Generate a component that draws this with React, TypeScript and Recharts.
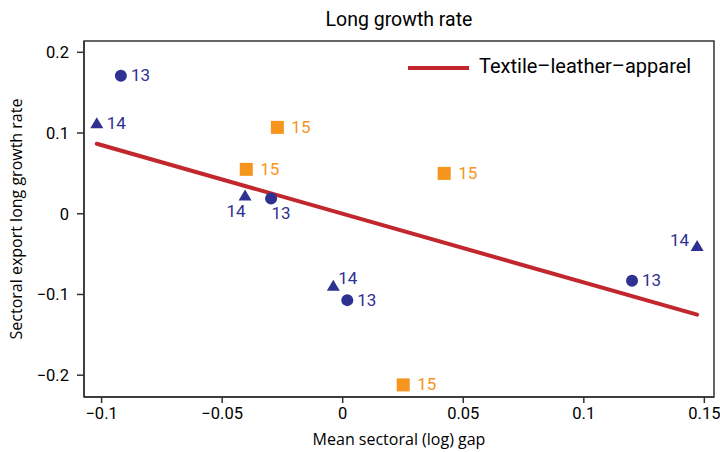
import React from 'react';
import { ComposedChart, Scatter, XAxis, YAxis, ReferenceArea } from 'recharts';

// marker data
const circleX = [-0.092, -0.0297, 0.0019, 0.12];
const circleY = [0.171, 0.019, -0.107, -0.083];
const circleSide = ['right', 'below-right', 'right', 'right'];

const triangleX = [-0.102, -0.0405, -0.0039, 0.147];
const triangleY = [0.112, 0.0227, -0.0892, -0.04];
const triangleSide = ['right', 'below-left', 'upper-right', 'upper-left'];

const squareX = [-0.0271, -0.04, 0.0421, 0.0251];
const squareY = [0.107, 0.055, 0.05, -0.212];
const squareSide = ['right', 'right', 'right', 'right'];

const fitX = [-0.102, 0.147];
const fitY = [0.0867, -0.125];

const xTicks = [-0.1, -0.05, 0, 0.05, 0.1, 0.15];
const yTicks = [-0.2, -0.1, 0, 0.1, 0.2];
const xDomain = [-0.1073, 0.154];
const yDomain = [-0.227, 0.214];

const NAVY = '#2E3192';
const ORANGE = '#F7941D';
const RED = '#C1272D';
const AXIS = '#333333';
const FONT = 'Roboto, sans-serif';
const TITLE_FONT = "'Open Sans', sans-serif";

const build = (xs: number[], ys: number[], sides: string[], label: string) =>
  xs.map((x, i) => ({ x, y: ys[i], side: sides[i], label }));

const circles = build(circleX, circleY, circleSide, '13');
const triangles = build(triangleX, triangleY, triangleSide, '14');
const squares = build(squareX, squareY, squareSide, '15');
const fit = fitX.map((x, i) => ({ x, y: fitY[i] }));

const fmt = (v: number) => (v === 0 ? '0' : String(v).replace('-', '\u2212'));

function labelPos(side: string, cx: number, cy: number, gap: number) {
  switch (side) {
    case 'below-left':
      return { x: cx - 9, y: cy + 17, anchor: 'middle' };
    case 'below-right':
      return { x: cx + 10, y: cy + 16, anchor: 'middle' };
    case 'upper-right':
      return { x: cx + 5, y: cy - 6, anchor: 'start' };
    case 'upper-left':
      return { x: cx - 8, y: cy - 5, anchor: 'end' };
    default:
      return { x: cx + gap, y: cy + 1, anchor: 'start' };
  }
}

function Mark(props: any) {
  const { cx, cy, payload, kind } = props;
  if (cx == null || cy == null) return <g />;
  const color = kind === 'square' ? ORANGE : NAVY;
  let shape;
  if (kind === 'circle') shape = <circle cx={cx} cy={cy} r={6} fill={color} />;
  else if (kind === 'square')
    shape = <rect x={cx - 6.5} y={cy - 6.5} width={13} height={13} fill={color} />;
  else
    shape = (
      <polygon
        points={`${cx},${cy - 6} ${cx + 6.5},${cy + 5} ${cx - 6.5},${cy + 5}`}
        fill={color}
      />
    );
  const lp = labelPos(payload.side, cx, cy, kind === 'square' ? 14 : 10);
  return (
    <g>
      {shape}
      <text
        x={lp.x}
        y={lp.y}
        textAnchor={lp.anchor as any}
        dominantBaseline="middle"
        fill={color}
        fontSize={17}
        fontFamily={FONT}
      >
        {payload.label}
      </text>
    </g>
  );
}

const YTitle = (props: any) => {
  const vb = props.viewBox || {};
  const cy = (vb.y || 0) + (vb.height || 0) / 2;
  return (
    <text
      x={18}
      y={cy}
      transform={`rotate(-90, 18, ${cy})`}
      textAnchor="middle"
      dominantBaseline="middle"
      fontSize={16}
      fontFamily={TITLE_FONT}
      fill="#000"
    >
      Sectoral export long growth rate
    </text>
  );
};

export default function App() {
  return (
    <div
      style={{
        position: 'absolute',
        left: 0,
        top: 0,
        width: 720,
        height: 452,
        background: '#fff',
      }}
    >
      <div
        style={{
          position: 'absolute',
          top: 8,
          left: 0,
          width: 798,
          textAlign: 'center',
          fontFamily: FONT,
          fontSize: 19.5,
          color: '#000',
        }}
      >
        Long growth rate
      </div>
      <ComposedChart
        width={720}
        height={452}
        margin={{ top: 41, right: 6, bottom: 0, left: 0 }}
      >
        <XAxis
          type="number"
          dataKey="x"
          domain={xDomain}
          ticks={xTicks}
          allowDataOverflow
          tickFormatter={fmt}
          height={55}
          tickSize={6}
          tickMargin={4}
          stroke={AXIS}
          strokeWidth={1.5}
          tick={{ fill: '#000', fontSize: 16.5, fontFamily: FONT }}
          label={{
            value: 'Mean sectoral (log) gap',
            position: 'insideBottom',
            offset: 7,
            fill: '#000',
            fontSize: 16,
            fontFamily: TITLE_FONT,
          }}
        />
        <YAxis
          type="number"
          dataKey="y"
          domain={yDomain}
          ticks={yTicks}
          allowDataOverflow
          tickFormatter={fmt}
          width={84}
          tickSize={7}
          tickMargin={8}
          stroke={AXIS}
          strokeWidth={1.5}
          tick={{ fill: '#000', fontSize: 16.5, fontFamily: FONT }}
          label={{ content: YTitle }}
        />
        <ReferenceArea
          x1={xDomain[0]}
          x2={xDomain[1]}
          y1={yDomain[0]}
          y2={yDomain[1]}
          fill="#fff"
          fillOpacity={0}
          stroke={AXIS}
          strokeWidth={1.5}
          ifOverflow="extendDomain"
        />
        <Scatter
          data={fit}
          line={{ stroke: RED, strokeWidth: 4, strokeLinecap: 'round' } as any}
          shape={() => <g />}
          legendType="none"
          isAnimationActive={false}
        />
        <Scatter
          data={circles}
          shape={(p: any) => <Mark {...p} kind="circle" />}
          isAnimationActive={false}
        />
        <Scatter
          data={triangles}
          shape={(p: any) => <Mark {...p} kind="triangle" />}
          isAnimationActive={false}
        />
        <Scatter
          data={squares}
          shape={(p: any) => <Mark {...p} kind="square" />}
          isAnimationActive={false}
        />
      </ComposedChart>
      <svg
        style={{ position: 'absolute', left: 400, top: 55 }}
        width={310}
        height={30}
      >
        <line x1={8} y1={13} x2={69} y2={13} stroke={RED} strokeWidth={4} />
        <text
          x={79}
          y={13}
          dominantBaseline="middle"
          fontSize={20}
          fontFamily={FONT}
          fill="#000"
        >
          Textile–leather–apparel
        </text>
      </svg>
    </div>
  );
}
